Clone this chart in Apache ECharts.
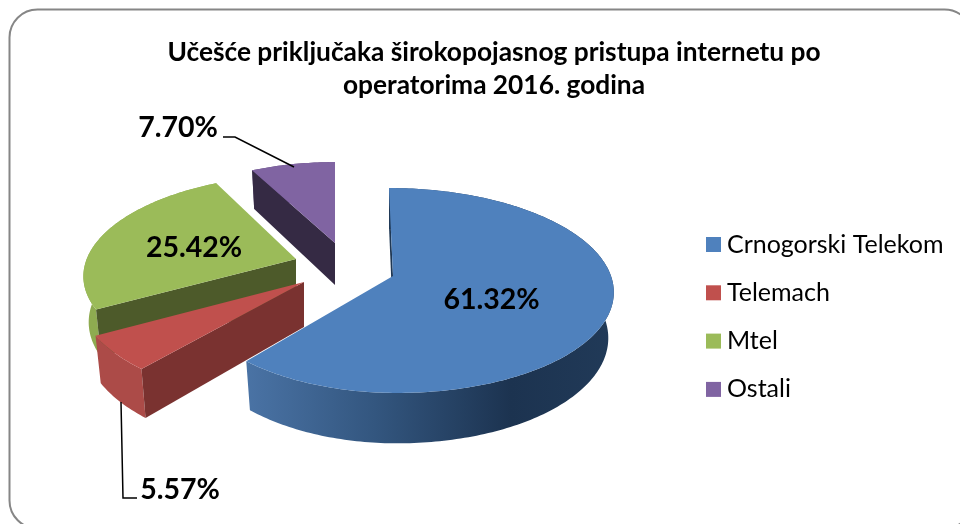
<!DOCTYPE html>
<html>
<head>
<meta charset="utf-8">
<script src="https://cdn.jsdelivr.net/npm/echarts@6/dist/echarts.min.js"></script>
<style>
	html, body { margin: 0; padding: 0; background: #fff; }
	#chart { width: 960px; height: 524px; }
</style>
</head>
<body>
<div id="chart"></div>
<script>
const titleText = "Učešće priključaka širokopojasnog pristupa internetu po\noperatorima 2016. godina";
const categories = ["Crnogorski Telekom", "Telemach", "Mtel", "Ostali"];
const shares = [61.32, 5.57, 25.42, 7.7];
const colors = ["#4f81bd", "#c0504d", "#9bbb59", "#8064a2"];

// where each exploded slice sits, excel 3d look
const apexes = [[393, 276], [304, 282], [296, 259], [335, 243]];
const scales = [1, 1.02, 0.96, 0.92];
const leftScales = [0.94, 1, 1, 1];
const skews = [4, 0, -8, 0];
const depths = [45, 45, 45, 42];
const labelSpots = [[491.5, 300], [180, 490], [194, 248], [178, 128]];
const leaders = [
	null,
	[[121, 402], [123, 498], [137, 498]],
	null,
	[[223, 137], [235, 137], [294, 167]],
];
const faceColors = ["#1f3854", "#7a3230", "#4d5a2a", "#352a44"];
const wallColors = [
	new echarts.graphic.LinearGradient(0, 0, 1, 0, [
		{ offset: 0, color: "#4a73a5" },
		{ offset: 0.35, color: "#33567f" },
		{ offset: 0.72, color: "#1c3350" },
		{ offset: 1, color: "#213a58" },
	]),
	"#ac4b48",
	"#8eab50",
	"#5f4a7a",
];

const total = shares.reduce((a, b) => a + b, 0);
const RX = 218, RY = 100.4, PERSP = 0.1415;

// circle point to screen offset from the apex
function project(deg, idx) {
	let t = (deg * Math.PI) / 180;
	let u = Math.sin(t);
	let v = -Math.cos(t);
	let w = 1 - PERSP * v;
	let x = (RX * u) / w;
	if (u < 0) x *= leftScales[idx];
	return [x + skews[idx] * v, (RY * v) / w];
}

function renderSlice(idx) {
	return function (params, api) {
		let before = shares.slice(0, idx).reduce((a, b) => a + b, 0);
		let from = (before / total) * 360;
		let to = ((before + api.value(0)) / total) * 360;
		let apex = apexes[idx];
		let s = scales[idx];
		let d = depths[idx];
		let top = [];
		let bottom = [];
		for (let a = from; ; a += 1) {
			let deg = Math.min(a, to);
			let p = project(deg, idx);
			top.push([apex[0] + p[0] * s, apex[1] + p[1] * s]);
			bottom.push([apex[0] + p[0] * s * 0.975, apex[1] + d + p[1] * s * 1.046]);
			if (deg >= to) break;
		}
		let apexLow = [apex[0], apex[1] + d];
		let children = [
			{
				type: "polygon",
				shape: { points: top.concat(bottom.slice().reverse()) },
				style: { fill: wallColors[idx] },
			},
			{
				type: "polygon",
				shape: { points: [apex, top[0], bottom[0], apexLow] },
				style: { fill: faceColors[idx] },
			},
			{
				type: "polygon",
				shape: { points: [apex].concat(top) },
				style: { fill: colors[idx] },
			},
		];
		if (leaders[idx]) {
			children.push({
				type: "polyline",
				shape: { points: leaders[idx] },
				style: { stroke: "#000", lineWidth: 1.5, fill: null },
			});
		}
		children.push({
			type: "text",
			style: {
				x: labelSpots[idx][0],
				y: labelSpots[idx][1],
				text: api.value(0).toFixed(2) + "%",
				font: 'bold 28.5px Lato',
				fill: "#000",
				align: "center",
				verticalAlign: "middle",
			},
		});
		return { type: "group", children: children };
	};
}

let chart = echarts.init(document.getElementById("chart"));
chart.setOption({
	animation: false,
	title: {
		text: titleText,
		left: 489,
		top: 31,
		textAlign: "center",
		textStyle: { fontFamily: "Lato", fontWeight: "bold", fontSize: 26.3, lineHeight: 33, color: "#000" },
	},
	legend: {
		orient: "vertical",
		left: 706,
		top: 232,
		padding: 0,
		data: categories,
		icon: "rect",
		itemWidth: 15,
		itemHeight: 15,
		itemGap: 23.3,
		textStyle: { fontFamily: "Lato", fontSize: 25, color: "#000", padding: [0, 0, 0, 1] },
	},
	graphic: [
		{
			type: "rect",
			shape: { x: 9.5, y: 9.5, width: 963, height: 519, r: 28 },
			style: { fill: null, stroke: "#868686", lineWidth: 2 },
			silent: true,
		},
	],
	series: categories.map(function (name, idx) {
		return {
			type: "custom",
			name: name,
			coordinateSystem: "none",
			z: [4, 3, 2, 1][idx],
			itemStyle: { color: colors[idx] },
			data: [[shares[idx]]],
			renderItem: renderSlice(idx),
		};
	}),
});
</script>
</body>
</html>
